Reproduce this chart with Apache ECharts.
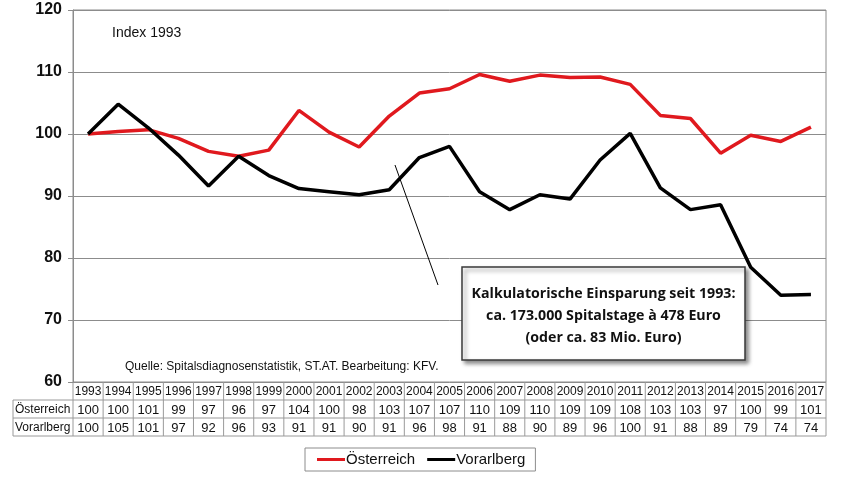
<!DOCTYPE html>
<html>
<head>
<meta charset="utf-8">
<script src="https://cdn.jsdelivr.net/npm/echarts@6/dist/echarts.min.js"></script>
<style>
  html, body { margin: 0; padding: 0; background: #fff; }
  #chart { width: 852px; height: 483px; }
</style>
</head>
<body>
<div id="chart"></div>
<script>
// Jahre (Index 1993 = 100)
const years = ['1993', '1994', '1995', '1996', '1997', '1998', '1999', '2000', '2001', '2002', '2003', '2004', '2005',
  '2006', '2007', '2008', '2009', '2010', '2011', '2012', '2013', '2014', '2015', '2016', '2017']
// Linienwerte (ungerundet)
const austria = [100, 100.4, 100.7, 99.3, 97.2, 96.4, 97.4, 103.8, 100.3, 97.9, 102.9, 106.6, 107.3,
  109.6, 108.5, 109.5, 109.1, 109.2, 108.0, 103.0, 102.5, 96.9, 99.8, 98.8, 101.1]
const vorarlberg = [100, 104.8, 101.0, 96.6, 91.6, 96.4, 93.3, 91.2, 90.7, 90.2, 91.0, 96.2, 98.0,
  90.7, 87.8, 90.2, 89.5, 95.8, 100.1, 91.3, 87.8, 88.6, 78.5, 74.0, 74.1]
// Tabellenwerte (gerundet, wie in der Datentabelle)
const austriaTable = [100, 100, 101, 99, 97, 96, 97, 104, 100, 98, 103, 107, 107, 110, 109, 110, 109, 109, 108, 103, 103, 97, 100, 99, 101]
const vorarlbergTable = [100, 105, 101, 97, 92, 96, 93, 91, 91, 90, 91, 96, 98, 91, 88, 90, 89, 96, 100, 91, 88, 89, 79, 74, 74]
const yTicks = [60, 70, 80, 90, 100, 110, 120]
const rowNames = ['Österreich', 'Vorarlberg']

const chart = echarts.init(document.getElementById('chart'))
const font = 'Arial, "Liberation Sans", sans-serif'
const gridLine = '#8c8c8c'

const option = {
  animation: false,
  textStyle: { fontFamily: font },
  grid: {
    left: 73,
    right: 26,
    top: 10,
    bottom: 101,
    show: true,
    borderColor: gridLine,
    borderWidth: 1
  },
  xAxis: {
    type: 'category',
    data: years,
    boundaryGap: true,
    axisLine: { show: false },
    axisTick: { show: false },
    axisLabel: { show: false }
  },
  yAxis: {
    type: 'value',
    min: yTicks[0],
    max: yTicks[yTicks.length - 1],
    interval: 10,
    axisLine: { show: true, lineStyle: { color: gridLine } },
    axisTick: { show: true, length: 5, lineStyle: { color: gridLine } },
    axisLabel: { color: '#111', fontSize: 16, fontWeight: 'bold', margin: 11 },
    splitLine: { lineStyle: { color: gridLine, width: 1 } }
  },
  legend: {
    bottom: 12,
    left: 305,
    itemGap: 12,
    itemWidth: 28,
    itemHeight: 3,
    padding: [4, 10, 4, 12],
    borderColor: '#8c8c8c',
    borderWidth: 1,
    icon: 'rect',
    textStyle: { fontSize: 15, color: '#111', padding: [0, 0, 0, -4] },
    data: rowNames
  },
  series: [
    {
      name: rowNames[0],
      type: 'line',
      data: austria,
      symbol: 'none',
      lineStyle: { color: '#e0191e', width: 3.5 },
      itemStyle: { color: '#e0191e' }
    },
    {
      name: rowNames[1],
      type: 'line',
      data: vorarlberg,
      symbol: 'none',
      lineStyle: { color: '#000', width: 3.5 },
      itemStyle: { color: '#000' }
    }
  ]
}
chart.setOption(option)

// Datentabelle unter der Achse, Spalten aus der Kategorienachse
const x0 = chart.convertToPixel({ xAxisIndex: 0 }, 0)
const x1 = chart.convertToPixel({ xAxisIndex: 0 }, 1)
const band = x1 - x0
const left = x0 - band / 2
const right = left + band * years.length
const yBase = chart.convertToPixel({ yAxisIndex: 0 }, yTicks[0])
const rowH = 18
const labelLeft = 13
const cellLine = { stroke: '#9a9a9a', lineWidth: 1 }
const g = []

// horizontale Linien
g.push({ type: 'line', shape: { x1: left, y1: yBase + rowH, x2: right, y2: yBase + rowH }, style: cellLine })
g.push({ type: 'line', shape: { x1: labelLeft, y1: yBase + rowH, x2: left, y2: yBase + rowH }, style: cellLine })
g.push({ type: 'line', shape: { x1: labelLeft, y1: yBase + 2 * rowH, x2: right, y2: yBase + 2 * rowH }, style: cellLine })
g.push({ type: 'line', shape: { x1: labelLeft, y1: yBase + 3 * rowH, x2: right, y2: yBase + 3 * rowH }, style: cellLine })
g.push({ type: 'line', shape: { x1: labelLeft, y1: yBase + rowH, x2: labelLeft, y2: yBase + 3 * rowH }, style: cellLine })
// vertikale Linien
for (let i = 0; i <= years.length; i++) {
  const x = left + i * band
  g.push({ type: 'line', shape: { x1: x, y1: yBase, x2: x, y2: yBase + 3 * rowH }, style: cellLine })
}
years.forEach((yr, i) => {
  const cx = chart.convertToPixel({ xAxisIndex: 0 }, i)
  g.push({ type: 'text', x: cx, y: yBase + rowH / 2 + 1, style: { text: yr, font: '12px ' + font, fill: '#111', align: 'center', verticalAlign: 'middle' } })
  g.push({ type: 'text', x: cx, y: yBase + rowH * 1.5 + 1, style: { text: String(austriaTable[i]), font: '13px ' + font, fill: '#111', align: 'center', verticalAlign: 'middle' } })
  g.push({ type: 'text', x: cx, y: yBase + rowH * 2.5 + 1, style: { text: String(vorarlbergTable[i]), font: '13px ' + font, fill: '#111', align: 'center', verticalAlign: 'middle' } })
})
rowNames.forEach((name, r) => {
  g.push({ type: 'text', x: labelLeft + 2, y: yBase + rowH * (1.5 + r) + 1, style: { text: name, font: '12px ' + font, fill: '#111', align: 'left', verticalAlign: 'middle' } })
})

// Beschriftungen im Diagramm
g.push({ type: 'text', x: 112, y: 33, style: { text: 'Index 1993', font: '14px ' + font, fill: '#111', verticalAlign: 'middle' } })
g.push({ type: 'text', x: 125, y: 367, style: { text: 'Quelle: Spitalsdiagnosenstatistik, ST.AT. Bearbeitung: KFV.', font: '12px ' + font, fill: '#111', verticalAlign: 'middle' } })

// Hinweislinie
g.push({ type: 'line', shape: { x1: 395, y1: 165, x2: 438, y2: 285 }, style: { stroke: '#000', lineWidth: 1 } })

// Textkasten
g.push({
  type: 'rect',
  shape: { x: 462, y: 267, width: 283, height: 93 },
  style: { fill: '#fff', stroke: '#3a3a3a', lineWidth: 1.5, shadowBlur: 4, shadowOffsetX: 3, shadowOffsetY: 3, shadowColor: 'rgba(0,0,0,0.45)' },
  z: 100
})
const boxLines = ['Kalkulatorische Einsparung seit 1993:', 'ca. 173.000 Spitalstage à 478 Euro', '(oder ca. 83 Mio. Euro)']
boxLines.forEach((t, i) => {
  g.push({ type: 'text', x: 603.5, y: 294 + i * 22, z: 101, style: { text: t, font: 'bold 14.2px "Open Sans", "Noto Sans", sans-serif', fill: '#111', align: 'center', verticalAlign: 'middle' } })
})

chart.setOption({ graphic: g })
</script>
</body>
</html>
